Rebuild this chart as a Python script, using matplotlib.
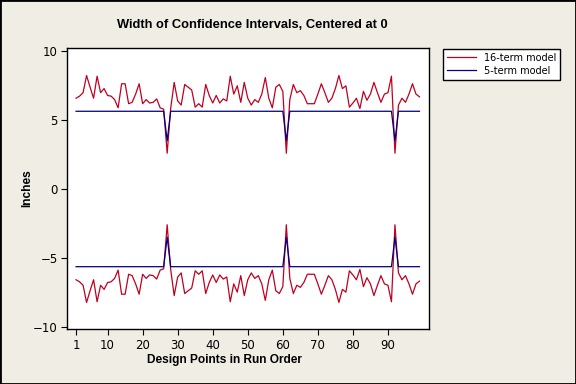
import matplotlib
matplotlib.use("Agg")
import matplotlib.pyplot as plt
from matplotlib.patches import Rectangle
import numpy as np

# Run order 1..99
run_order = list(range(1, 100))

# Half-width of CI, 16-term model (upper band; lower band is its mirror)
width_16 = [6.6, 6.75, 7.0, 8.25, 7.4, 6.6, 8.2, 7.0, 7.3, 6.8,
            6.75, 6.5, 5.9, 7.65, 7.65, 6.2, 6.3, 6.9, 7.65, 6.2,
            6.5, 6.25, 6.3, 6.55, 5.9, 5.8, 2.6, 5.85, 7.75, 6.4,
            6.1, 7.6, 7.4, 7.2, 5.95, 6.2, 5.95, 7.6, 6.8, 6.25,
            6.8, 6.25, 6.55, 6.4, 8.2, 6.9, 7.5, 6.3, 7.75, 6.6,
            6.1, 6.5, 6.3, 6.9, 8.1, 6.6, 5.9, 7.4, 7.6, 7.1,
            2.6, 6.5, 7.6, 7.0, 7.15, 6.8, 6.2, 6.2, 6.2, 6.9,
            7.65, 7.0, 6.3, 6.6, 7.3, 8.25, 7.3, 7.5, 5.95, 6.25,
            6.6, 5.85, 7.1, 6.45, 6.9, 7.75, 7.0, 6.3, 6.9, 7.0,
            8.2, 2.6, 6.1, 6.6, 6.3, 6.9, 7.65, 6.9, 6.7]

# Half-width of CI, 5-term model (constant except at center points 27, 61, 92)
center_points = [27, 61, 92]
base_5 = 5.65
center_5 = 3.5
width_5 = [center_5 if r in center_points else base_5 for r in run_order]

x_ticks = [1, 10, 20, 30, 40, 50, 60, 70, 80, 90]
y_ticks = [-10, -5, 0, 5, 10]

red = "#C00020"
navy = "#000080"
bg = "#F0EDE4"

fig = plt.figure(figsize=(5.76, 3.84), dpi=100, facecolor=bg)
ax = fig.add_axes([67.3/576, 1-329/384, (429.3-67.3)/576, (329-48)/384])
ax.set_facecolor("white")

w16 = np.array(width_16)
w5 = np.array(width_5)
ax.plot(run_order, w16, color=red, lw=0.9, label="16-term model")
ax.plot(run_order, w5, color=navy, lw=0.9, label="5-term model")
ax.plot(run_order, -w16, color=red, lw=0.9)
ax.plot(run_order, -w5, color=navy, lw=0.9)

ax.set_xlim(-1.5, 101.8)
ax.set_ylim(-10.18, 10.25)
ax.set_xticks(x_ticks)
ax.set_yticks(y_ticks)
ax.tick_params(direction="out", length=4, width=0.8, labelsize=8.5, pad=3,
               colors="black")
for s in ax.spines.values():
    s.set_linewidth(1.0)
    s.set_color("black")

fig.text(252/576, 1-25/384, "Width of Confidence Intervals, Centered at 0",
         ha="center", va="center", fontsize=9.3, fontweight="bold",
         family="Liberation Sans")
fig.text(224/576, 1-360/384, "Design Points in Run Order",
         ha="center", va="center", fontsize=8.6, fontweight="bold",
         family="Liberation Sans")
fig.text(27/576, 1-188/384, "Inches", rotation=90,
         ha="center", va="center", fontsize=8.6, fontweight="bold",
         family="Liberation Sans")

leg = fig.legend(loc="upper left", bbox_to_anchor=(443/576, 1-49/384),
                 fontsize=7, frameon=True, fancybox=False, handlelength=3.0,
                 handletextpad=0.8, borderpad=0.4, labelspacing=0.3,
                 borderaxespad=0)
leg.get_frame().set_edgecolor("black")
leg.get_frame().set_linewidth(1.0)
leg.get_frame().set_facecolor("white")
leg.get_frame().set_alpha(1)

fig.patches.append(Rectangle((0, 0), 1, 1, transform=fig.transFigure,
                             fill=False, edgecolor="black", lw=2.0))

fig.savefig("out.png", dpi=100, facecolor=bg)
